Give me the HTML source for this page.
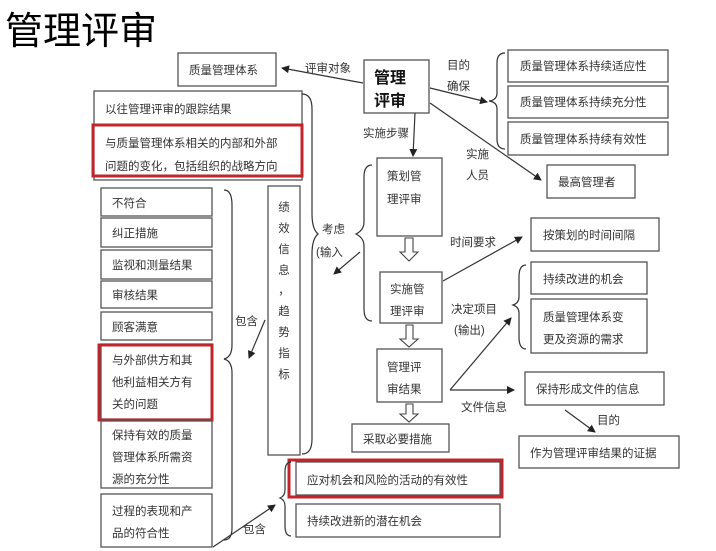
<!DOCTYPE html>
<html><head><meta charset="utf-8"><style>
body{margin:0;background:#fff;}
svg{display:block;font-family:"Liberation Sans","Noto Sans CJK SC",sans-serif;}
.b{fill:#fff;stroke:#555;stroke-width:1.3}
.r{fill:none;stroke:#c0252b;stroke-width:3}
.l{stroke:#333;stroke-width:1.2;fill:none}
text{font-size:11.5px;fill:#333}
</style></head><body>
<svg width="716" height="551" viewBox="0 0 716 551">
<defs><marker id="a" markerWidth="8" markerHeight="8" refX="7" refY="4" orient="auto" markerUnits="userSpaceOnUse"><path d="M0,0 L8,4 L0,8z" fill="#222"/></marker></defs>
<text x="5" y="44" style="font-size:38px;fill:#000">管理评审</text>

<rect class="b" x="178" y="53" width="98" height="33"/><text x="189" y="74">质量管理体系</text>
<rect class="b" x="94" y="91" width="208" height="89"/><text x="105" y="113">以往管理评审的跟踪结果</text>
<rect class="r" x="93" y="125" width="209" height="51"/>
<text x="105" y="147">与质量管理体系相关的内部和外部</text><text x="105" y="170">问题的变化，包括组织的战略方向</text>

<rect class="b" x="101" y="188" width="111" height="28"/><text x="112" y="207">不符合</text>
<rect class="b" x="101" y="218" width="111" height="29"/><text x="112" y="237">纠正措施</text>
<rect class="b" x="101" y="250" width="111" height="29"/><text x="112" y="269">监视和测量结果</text>
<rect class="b" x="101" y="281" width="111" height="27"/><text x="112" y="299">审核结果</text>
<rect class="b" x="101" y="312" width="111" height="28"/><text x="112" y="331">顾客满意</text>
<rect class="b" x="101" y="344" width="111" height="75"/>
<rect class="r" x="99" y="345" width="113" height="75"/>
<text x="112" y="364">与外部供方和其</text><text x="112" y="386">他利益相关方有</text><text x="112" y="408">关的问题</text>
<rect class="b" x="101" y="421" width="111" height="67"/>
<text x="112" y="439">保持有效的质量</text><text x="112" y="461">管理体系所需资</text><text x="112" y="483">源的充分性</text>
<rect class="b" x="101" y="494" width="111" height="53"/>
<text x="112" y="515">过程的表现和产</text><text x="112" y="537">品的符合性</text>

<rect class="b" x="268" y="186" width="32" height="269"/>
<g text-anchor="middle"><text x="284" y="211">绩</text><text x="284" y="232">效</text><text x="284" y="253">信</text><text x="284" y="274">息</text><text x="284" y="294">，</text><text x="284" y="315">趋</text><text x="284" y="336">势</text><text x="284" y="357">指</text><text x="284" y="378">标</text></g>

<rect class="b" x="364" y="60" width="65" height="53"/>
<text x="374" y="83" style="font-size:16px;font-weight:bold;fill:#111">管理</text><text x="374" y="106" style="font-size:16px;font-weight:bold;fill:#111">评审</text>

<rect class="b" x="508" y="50" width="160" height="32"/><text x="520" y="70">质量管理体系持续适应性</text>
<rect class="b" x="508" y="86" width="160" height="32"/><text x="520" y="106">质量管理体系持续充分性</text>
<rect class="b" x="508" y="122" width="160" height="33"/><text x="520" y="143">质量管理体系持续有效性</text>
<rect class="b" x="547" y="165" width="88" height="33"/><text x="558" y="186">最高管理者</text>

<rect class="b" x="377" y="158" width="65" height="78"/><text x="387" y="180">策划管</text><text x="387" y="203">理评审</text>
<rect class="b" x="380" y="272" width="62" height="51"/><text x="390" y="293">实施管</text><text x="390" y="315">理评审</text>
<rect class="b" x="377" y="349" width="65" height="53"/><text x="387" y="371">管理评</text><text x="387" y="393">审结果</text>
<rect class="b" x="352" y="424" width="97" height="28"/><text x="363" y="443">采取必要措施</text>
<g fill="#fff" stroke="#444" stroke-width="1.1">
<path d="M405,238 h8 v14 h5 l-9,9 l-9,-9 h5z"/>
<path d="M406,325 h7 v14 h5 l-9,8 l-9,-8 h6z"/>
<path d="M406,404 h7 v10 h5 l-9,8 l-9,-8 h6z"/></g>

<rect class="b" x="531" y="218" width="128" height="33"/><text x="543" y="239">按策划的时间间隔</text>
<rect class="b" x="531" y="262" width="116" height="32"/><text x="543" y="283">持续改进的机会</text>
<rect class="b" x="531" y="299" width="116" height="54"/><text x="543" y="321">质量管理体系变</text><text x="543" y="343">更及资源的需求</text>
<rect class="b" x="525" y="372" width="139" height="33"/><text x="536" y="393">保持形成文件的信息</text>
<rect class="b" x="519" y="436" width="160" height="32"/><text x="530" y="457">作为管理评审结果的证据</text>

<rect class="b" x="296" y="462" width="204" height="33"/><text x="307" y="484">应对机会和风险的活动的有效性</text>
<rect class="r" x="289" y="460" width="213" height="37"/>
<rect class="b" x="296" y="504" width="204" height="33"/><text x="307" y="525">持续改进新的潜在机会</text>

<text x="305" y="72">评审对象</text><text x="447" y="69">目的</text><text x="447" y="90">确保</text>
<text x="363" y="137">实施步骤</text><text x="466" y="158">实施</text><text x="466" y="179">人员</text>
<text x="322" y="233">考虑</text><text x="316" y="256">(输入</text>
<text x="235" y="325">包含</text><text x="243" y="533">包含</text>
<text x="450" y="246">时间要求</text><text x="451" y="313">决定项目</text><text x="454" y="334">(输出)</text>
<text x="461" y="411">文件信息</text><text x="597" y="424">目的</text>

<g class="l">
<line x1="363" y1="83" x2="282" y2="68" marker-end="url(#a)"/>
<line x1="430" y1="88" x2="487" y2="102" marker-end="url(#a)"/>
<line x1="430" y1="103" x2="541" y2="180" marker-end="url(#a)"/>
<line x1="415" y1="113" x2="413" y2="156" marker-end="url(#a)"/>
<line x1="443" y1="281" x2="522" y2="237" marker-end="url(#a)"/>
<line x1="450" y1="390" x2="511" y2="318" marker-end="url(#a)"/>
<line x1="450" y1="390" x2="514" y2="390" marker-end="url(#a)"/>
<line x1="565" y1="410" x2="595" y2="432" marker-end="url(#a)"/>
<line x1="265" y1="320" x2="249" y2="358" marker-end="url(#a)"/>
<line x1="360" y1="252" x2="334" y2="274" marker-end="url(#a)"/>
<line x1="213" y1="547" x2="275" y2="505" marker-end="url(#a)"/>
<path d="M505,53 q-8,0 -8,10 v30 q0,7 -8,8 q8,1 8,8 v30 q0,10 8,10"/>
<path d="M224,190 q8,0 8,15 v140 q0,12 -8,14 q8,2 8,14 v155 q0,12 -8,12"/>
<path d="M302,94 q10,0 10,15 v105 q0,15 6,20 q-6,5 -6,20 v185 q0,15 -10,15"/>
<path d="M372,165 q-8,0 -8,12 v45 q0,8 -8,12 q8,4 8,12 v63 q0,12 8,12"/>
<path d="M526,265 q-7,0 -7,12 v20 q0,6 -6,8 q6,2 6,8 v24 q0,12 7,12"/>
<path d="M291,462 q-6,0 -6,10 v18 q0,6 -5,8 q5,2 5,8 v20 q0,10 6,10"/>
</g>
</svg>
</body></html>
